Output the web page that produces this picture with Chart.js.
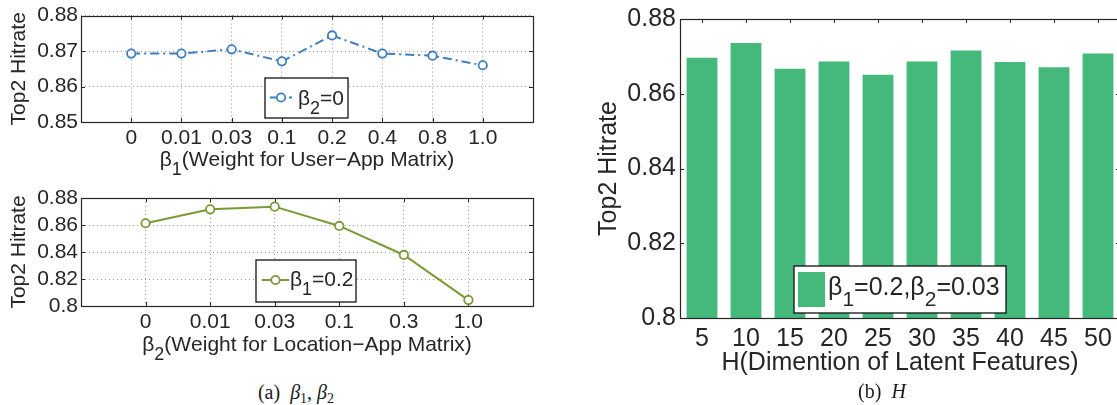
<!DOCTYPE html>
<html>
<head>
<meta charset="utf-8">
<script src="https://cdn.jsdelivr.net/npm/chart.js@4.4.0/dist/chart.umd.min.js"></script>
<style>
  html, body { margin: 0; padding: 0; background: #fff; overflow: hidden; }
  body { width: 1117px; height: 405px; position: relative; }
  canvas { position: absolute; }
  .caption {
    position: absolute; white-space: nowrap; color: #1a1a1a;
    font-family: "Liberation Serif", "Times New Roman", serif; font-size: 20px; line-height: 22px;
    transform: translate(-50%, -50%);
  }
  .caption sub { font-size: 14px; vertical-align: -4px; line-height: 0; }
</style>
</head>
<body>
<canvas id="chartBeta1" width="560" height="180" style="left:0;top:0"></canvas>
<canvas id="chartBeta2" width="560" height="180" style="left:0;top:180px"></canvas>
<canvas id="chartH" width="540" height="385" style="left:585px;top:0"></canvas>
<div class="caption" style="left:296px;top:392px">(a)&nbsp; <i>β</i><sub>1</sub>, <i>β</i><sub>2</sub></div>
<div class="caption" style="left:882px;top:391px">(b)&nbsp; <i>H</i></div>

<script>
// beta1 sweep (beta2 = 0)
const beta1Labels = ['0', '0.01', '0.03', '0.1', '0.2', '0.4', '0.8', '1.0'];
const hitrateBeta1 = [0.8693, 0.8693, 0.8705, 0.8671, 0.8744, 0.8693, 0.8687, 0.8660];
const yTicksBeta1 = [0.85, 0.86, 0.87, 0.88];

// beta2 sweep (beta1 = 0.2)
const beta2Labels = ['0', '0.01', '0.03', '0.1', '0.3', '1.0'];
const hitrateBeta2 = [0.8613, 0.8716, 0.8736, 0.8593, 0.8378, 0.8044];
const yTicksBeta2 = [0.8, 0.82, 0.84, 0.86, 0.88];

// H sweep (beta1 = 0.2, beta2 = 0.03)
const hLabels = ['5', '10', '15', '20', '25', '30', '35', '40', '45', '50'];
const hitrateH = [0.8696, 0.8736, 0.8667, 0.8686, 0.8651, 0.8686, 0.8716, 0.8685, 0.8671, 0.8708];
const yTicksH = [0.8, 0.82, 0.84, 0.86, 0.88];

const FONT = '"Liberation Sans", Arial, Helvetica, sans-serif';
const TEXT = '#262626';
const FRAME = '#262626';
const GRID = '#9a9a9a';
const BLUE = '#3f7fbf';
const OLIVE = '#7a9a36';
const BAR = '#45b97c';

Chart.defaults.font.family = FONT;
Chart.defaults.color = TEXT;

// Draws a string where '_x' means x is a subscript (MATLAB tex style).
function drawRich(ctx, text, x, y, size, align) {
    const parts = [];
    for (let i = 0; i < text.length; i++) {
        if (text[i] === '_') { parts.push({ t: text[i + 1], sub: true }); i++; }
        else parts.push({ t: text[i], sub: false });
    }
    const fontFor = p => (p.sub ? Math.round(size * 0.85) : size) + 'px ' + FONT;
    let width = 0;
    parts.forEach(p => { ctx.font = fontFor(p); p.w = ctx.measureText(p.t).width; width += p.w; });
    let cx = align === 'center' ? x - width / 2 : x;
    ctx.save();
    ctx.fillStyle = TEXT;
    ctx.textAlign = 'left';
    ctx.textBaseline = 'alphabetic';
    parts.forEach(p => {
        ctx.font = fontFor(p);
        ctx.fillText(p.t, cx, p.sub ? y + size * 0.45 : y);
        cx += p.w;
    });
    ctx.restore();
}

// MATLAB look: inward ticks, box round the axes, x title and a boxed legend.
const matlabPlugin = {
    id: 'matlab',
    beforeDatasetsDraw(chart, args, opts) {
        const ctx = chart.ctx, a = chart.chartArea;
        const xs = chart.scales.x, ys = chart.scales.y, len = opts.tickLen;
        ctx.save();
        ctx.strokeStyle = FRAME;
        ctx.lineWidth = 1;
        ctx.beginPath();
        xs.ticks.forEach((t, i) => {
            const px = Math.round(xs.getPixelForTick(i)) + 0.5;
            ctx.moveTo(px, a.top); ctx.lineTo(px, a.top + len);
            ctx.moveTo(px, a.bottom); ctx.lineTo(px, a.bottom - len);
        });
        ys.ticks.forEach((t, i) => {
            const py = Math.round(ys.getPixelForTick(i)) + 0.5;
            ctx.moveTo(a.left, py); ctx.lineTo(a.left + len, py);
            ctx.moveTo(a.right, py); ctx.lineTo(a.right - len, py);
        });
        ctx.stroke();
        ctx.restore();
    },
    afterDatasetsDraw(chart, args, opts) {
        const lg = opts.legend, ctx = chart.ctx;
        const ds = chart.data.datasets[0];
        ctx.save();
        ctx.fillStyle = '#fff';
        ctx.fillRect(lg.x, lg.y, lg.w, lg.h);
        ctx.strokeStyle = '#111';
        ctx.lineWidth = 1.3;
        ctx.strokeRect(lg.x, lg.y, lg.w, lg.h);
        if (lg.kind === 'bar') {
            ctx.fillStyle = ds.backgroundColor;
            ctx.fillRect(lg.sx1, lg.sy1, lg.sx2 - lg.sx1, lg.sy2 - lg.sy1);
        } else {
            ctx.strokeStyle = ds.borderColor;
            ctx.lineWidth = ds.borderWidth;
            ctx.setLineDash(ds.borderDash || []);
            ctx.beginPath();
            ctx.moveTo(lg.sx1, lg.sy); ctx.lineTo(lg.sx2, lg.sy);
            ctx.stroke();
            ctx.setLineDash([]);
            ctx.fillStyle = '#fff';
            ctx.lineWidth = ds.pointBorderWidth;
            ctx.beginPath();
            ctx.arc((lg.sx1 + lg.sx2) / 2, lg.sy, ds.pointRadius, 0, Math.PI * 2);
            ctx.fill();
            ctx.stroke();
        }
        ctx.restore();
        drawRich(ctx, ds.label, lg.tx, lg.baseline, lg.size, 'left');
    },
    afterDraw(chart, args, opts) {
        const ctx = chart.ctx, a = chart.chartArea;
        ctx.save();
        ctx.strokeStyle = FRAME;
        ctx.lineWidth = 1.2;
        ctx.strokeRect(Math.round(a.left) + 0.5, Math.round(a.top) + 0.5,
            Math.round(a.right - a.left), Math.round(a.bottom - a.top));
        ctx.restore();
        drawRich(ctx, opts.xTitle, (a.left + a.right) / 2, opts.xTitleY, opts.size, 'center');
    }
};

// Line plot over evenly spaced categories, one unit of room on both sides.
function plotSweep(id, labels, values, yTicks, dataset, layout) {
    const cfg = {
        type: 'line',
        data: {
            datasets: [Object.assign({
                data: values.map((v, i) => ({ x: i, y: v })),
                borderWidth: 2,
                pointRadius: 4.2,
                pointBorderWidth: 1.8,
                pointBackgroundColor: '#fff',
                tension: 0
            }, dataset)]
        },
        options: {
            responsive: false,
            animation: false,
            layout: { autoPadding: false, padding: layout.padding },
            plugins: {
                legend: { display: false },
                tooltip: { enabled: false },
                matlab: layout.matlab
            },
            scales: {
                x: {
                    type: 'linear',
                    min: -1,
                    max: labels.length,
                    afterBuildTicks: s => { s.ticks = labels.map((l, i) => ({ value: i })); },
                    afterFit: s => { s.height = layout.xHeight; },
                    ticks: {
                        autoSkip: false, maxRotation: 0, padding: 4, color: TEXT,
                        font: { size: 21 },
                        callback: (v, i) => labels[i]
                    },
                    grid: { color: GRID, lineWidth: 1, drawTicks: false },
                    border: { display: false, dash: [1, 3] }
                },
                y: {
                    min: yTicks[0],
                    max: yTicks[yTicks.length - 1],
                    afterBuildTicks: s => { s.ticks = yTicks.map(v => ({ value: v })); },
                    afterFit: s => { s.width = 81; },
                    ticks: {
                        autoSkip: false, padding: 3, color: TEXT, font: { size: 21 },
                        callback: v => String(+v.toFixed(2))
                    },
                    grid: { color: GRID, lineWidth: 1, drawTicks: false },
                    border: { display: false, dash: [1, 3] },
                    title: {
                        display: true, text: 'Top2 Hitrate', color: TEXT,
                        font: { size: 21 }, padding: { top: 7, bottom: 0 }
                    }
                }
            }
        },
        plugins: [matlabPlugin]
    };
    return new Chart(document.getElementById(id), cfg);
}

plotSweep('chartBeta1', beta1Labels, hitrateBeta1, yTicksBeta1, {
    label: 'β_2=0',
    borderColor: BLUE,
    pointBorderColor: BLUE,
    borderDash: [9, 4, 2, 4]
}, {
    padding: { top: 14, right: 27, left: 0, bottom: 0 },
    xHeight: 58,
    matlab: {
        tickLen: 4, size: 21,
        xTitle: 'β_1(Weight for User−App Matrix)', xTitleY: 165.5,
        legend: { x: 265, y: 78, w: 83, h: 40, kind: 'line', sx1: 270, sx2: 292, sy: 97.5, tx: 298, baseline: 105, size: 21 }
    }
});

plotSweep('chartBeta2', beta2Labels, hitrateBeta2, yTicksBeta2, {
    label: 'β_1=0.2',
    borderColor: OLIVE,
    pointBorderColor: OLIVE
}, {
    padding: { top: 18, right: 27, left: 0, bottom: 0 },
    xHeight: 54,
    matlab: {
        tickLen: 4, size: 21,
        xTitle: 'β_2(Weight for Location−App Matrix)', xTitleY: 171,
        legend: { x: 256, y: 80, w: 100, h: 42, kind: 'line', sx1: 262, sx2: 289, sy: 100, tx: 290, baseline: 106, size: 21 }
    }
});

// Bar chart for the latent dimension H
new Chart(document.getElementById('chartH'), {
    type: 'bar',
    data: {
        labels: hLabels,
        datasets: [{
            label: 'β_1=0.2,β_2=0.03',
            data: hitrateH,
            backgroundColor: BAR,
            borderWidth: 0,
            barPercentage: 0.7,
            categoryPercentage: 1
        }]
    },
    options: {
        responsive: false,
        animation: false,
        layout: { autoPadding: false, padding: { top: 15, right: 5, left: 0, bottom: 0 } },
        plugins: {
            legend: { display: false },
            tooltip: { enabled: false },
            matlab: {
                tickLen: 4, size: 25,
                xTitle: 'H(Dimention of Latent Features)', xTitleY: 370,
                legend: { x: 209, y: 266, w: 212, h: 47, kind: 'bar', sx1: 213, sx2: 240, sy1: 272, sy2: 307, tx: 243, baseline: 295, size: 25 }
            }
        },
        scales: {
            x: {
                afterFit: s => { s.height = 67; },
                ticks: { autoSkip: false, maxRotation: 0, padding: 6, color: TEXT, font: { size: 25 } },
                grid: { display: false, drawTicks: false },
                border: { display: false }
            },
            y: {
                min: yTicksH[0],
                max: yTicksH[yTicksH.length - 1],
                afterBuildTicks: s => { s.ticks = yTicksH.map(v => ({ value: v })); },
                afterFit: s => { s.width = 95; },
                ticks: { autoSkip: false, padding: 4, color: TEXT, font: { size: 25 }, callback: v => String(+v.toFixed(2)) },
                grid: { display: false, drawTicks: false },
                border: { display: false },
                title: {
                    display: true, text: 'Top2 Hitrate', color: TEXT,
                    font: { size: 25 }, padding: { top: 9, bottom: 0 }
                }
            }
        }
    },
    plugins: [matlabPlugin]
});
</script>
</body>
</html>
